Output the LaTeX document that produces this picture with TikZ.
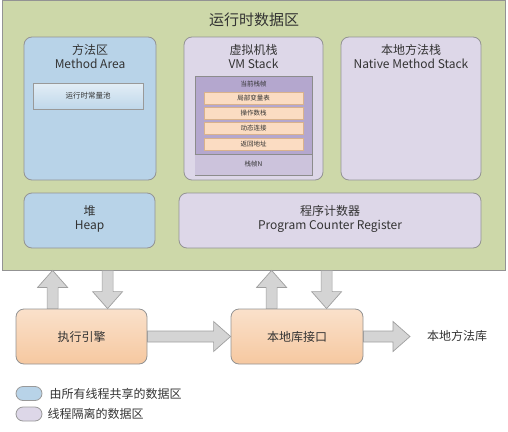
\documentclass[tikz,border=0pt]{standalone}
\usepackage{fontspec}
\setmainfont{Noto Sans CJK SC}
\usetikzlibrary{positioning,calc}

\definecolor{qulv}{HTML}{CDD8A9}
\definecolor{gongxiang}{HTML}{B8D3E8}
\definecolor{geli}{HTML}{DDD7E8}
\definecolor{zhenzi}{HTML}{B4A7CE}
\definecolor{zhenN}{HTML}{CCC3DC}
\definecolor{juese}{HTML}{F6C8A0}
\definecolor{hangse}{HTML}{FBDCC2}
\definecolor{huise}{HTML}{D4D4D4}
\definecolor{wenzi}{HTML}{333333}

\tikzset{
  kuang/.style={draw=gray!85, line width=0.8pt, rounded corners=8pt, inner sep=0pt},
  biaoti/.style={align=center, text=wenzi, font=\fontsize{12}{14}\selectfont},
  xiaozi/.style={text=wenzi, font=\fontsize{6.5}{8}\selectfont},
  hang/.style={draw=brown!60, fill=hangse, line width=0.5pt, minimum width=99, minimum height=12, inner sep=0pt},
  jiantou/.style={draw=gray!75, fill=huise, line width=0.7pt},
  tuli/.style={draw=gray!80, line width=0.8pt, minimum width=26, minimum height=14, rounded corners=7pt, inner sep=0pt},
}

% 块状箭头
\newcommand{\kuaijiantou}[2]{%
  \coordinate (jt) at ($(#2)!17pt!(#1)$);
  \draw[jiantou] ($(#1)!5.5pt!90:(#2)$) -- ($(jt)!5.5pt!90:(#2)$) -- ($(jt)!15pt!90:(#2)$) -- (#2)
    -- ($(jt)!15pt!-90:(#2)$) -- ($(jt)!5.5pt!-90:(#2)$) -- ($(#1)!5.5pt!-90:(#2)$) -- cycle;
}

\begin{document}
\begin{tikzpicture}[x=1pt,y=-1pt]
    \useasboundingbox (0,0) rectangle (508,431);

    % 运行时数据区
    \node[draw=gray!85, line width=0.8pt, fill=qulv, minimum width=503, minimum height=270, inner sep=0pt] (runtime) at (253.5,135) {};
    \node[text=wenzi, font=\fontsize{15}{18}\selectfont] (title) at (254,20) {运行时数据区};

    \node[kuang, fill=gongxiang, minimum width=132, minimum height=143] (method) at (90,108.5) {};
    \node[kuang, fill=geli, minimum width=139, minimum height=143] (vmstack) at (253.5,108.5) {};
    \node[kuang, fill=geli, minimum width=140, minimum height=143] (native) at (411,108.5) {};
    \node[kuang, fill=gongxiang, minimum width=131, minimum height=55] (heap) at (89.5,220.5) {};
    \node[kuang, fill=geli, minimum width=302, minimum height=55] (pc) at (330,220.5) {};

    \node[biaoti] at (90,57) {方法区\\Method Area};
    \node[biaoti] at (253.5,57) {虚拟机栈\\VM Stack};
    \node[biaoti] at (411,57) {本地方法栈\\Native Method Stack};
    \node[biaoti] at (89.5,219) {堆\\Heap};
    \node[biaoti] at (330,219) {程序计数器\\Program Counter Register};

    % 运行时常量池
    \node[draw=gray!80, line width=0.7pt, top color=gongxiang!40!white, bottom color=gongxiang!90!white, minimum width=110, minimum height=26, inner sep=0pt, text=wenzi, font=\fontsize{7.5}{9}\selectfont] (pool) at (88,96) {运行时常量池};

    % 栈帧
    \node[draw=gray!90, line width=0.8pt, fill=zhenzi, minimum width=117, minimum height=99, inner sep=0pt] (frame) at (253.5,125.5) {};
    \fill[zhenN] ($(frame.south west)+(0.4,-0.4)$) rectangle ($(frame.south east)+(-0.4,-21)$);
    \draw[gray!90, line width=0.6pt] ($(frame.south west)+(0,-21)$) -- ($(frame.south east)+(0,-21)$);
    \node[xiaozi] (dangqian) at (253.5,84) {当前栈帧};
    \node[hang, xiaozi] (jubu) at (253.5,98) {局部变量表};
    \node[hang, xiaozi] (caozuo) at (253.5,113) {操作数栈};
    \node[hang, xiaozi] (dongtai) at (253.5,128.5) {动态连接};
    \node[hang, xiaozi] (fanhui) at (253.5,144) {返回地址};
    \node[xiaozi] (zhenn) at (253.5,164.5) {栈帧N};

    % 执行引擎与本地库接口
    \node[kuang, top color=juese!55!white, bottom color=juese, minimum width=131, minimum height=55, text=wenzi, font=\fontsize{12}{14}\selectfont] (engine) at (81.5,336.5) {执行引擎};
    \node[kuang, top color=juese!55!white, bottom color=juese, minimum width=132, minimum height=55, text=wenzi, font=\fontsize{12}{14}\selectfont] (jiekou) at (297,336.5) {本地库接口};
    \node[text=wenzi, font=\fontsize{12}{14}\selectfont] (ku) at (457,336) {本地方法库};
    \coordinate (kutip) at (410,336.5);

    % 箭头
    \coordinate (up1) at ($(engine.north west)+(37,0)$);
    \coordinate (dn1) at ($(engine.north west)+(92,0)$);
    \coordinate (up2) at ($(jiekou.north west)+(41,0)$);
    \coordinate (dn2) at ($(jiekou.north west)+(96,0)$);
    \kuaijiantou{up1}{up1 |- runtime.south}
    \kuaijiantou{dn1 |- runtime.south}{dn1}
    \kuaijiantou{up2}{up2 |- runtime.south}
    \kuaijiantou{dn2 |- runtime.south}{dn2}
    \kuaijiantou{engine.east}{jiekou.west}
    \kuaijiantou{jiekou.east}{kutip}

    % 图例
    \node[tuli, fill=gongxiang] (tuli1) at (29,393.5) {};
    \node[tuli, fill=geli] (tuli2) at (29,414) {};
    \node[right=7pt of tuli1, inner sep=0pt, text=wenzi, font=\fontsize{12}{14}\selectfont] (shuoming1) {由所有线程共享的数据区};
    \node[right=5pt of tuli2, inner sep=0pt, text=wenzi, font=\fontsize{12}{14}\selectfont] (shuoming2) {线程隔离的数据区};
\end{tikzpicture}
\end{document}
